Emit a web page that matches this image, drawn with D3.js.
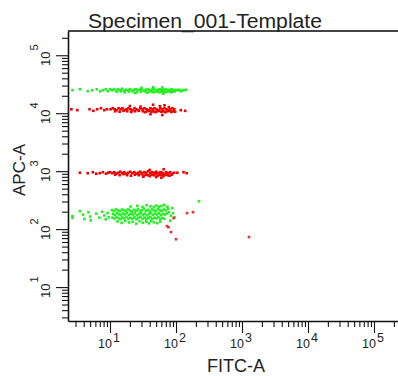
<!DOCTYPE html>
<html>
<head>
<meta charset="utf-8">
<script src="https://cdn.jsdelivr.net/npm/d3@7"></script>
<style>
  body { margin: 0; background: #fff; }
  text { font-family: "Liberation Sans", Arial, sans-serif; fill: #222; }
</style>
</head>
<body>
<div id="chart"></div>
<script>
const title = "Specimen_001-Template";
const xLabel = "FITC-A";
const yLabel = "APC-A";
const decades = [1, 2, 3, 4, 5];

// [FITC-A, APC-A] events
const greenHigh = [
  [2.7,25000],[3.5,25900],[4.6,24000],[5.4,24900],[6.3,25900],[7.1,23900],[7.8,24900],[8.6,25900],[9.3,24000],
  [10,25900],[10.7,24900],[11.5,25900],[12.3,24400],[13.2,25900],[14.2,24900],[15.2,26500],[16.3,24400],[17.4,25400],
  [18.7,24900],[20,25900],[21.5,24400],[23,25400],[24.7,25900],[26.5,24900],[28.4,25400],[30.4,25900],[32.6,24400],
  [35,25400],[37.5,25900],[40.2,24900],[43.1,25400],[46.2,26500],[49.5,24900],[53.1,25400],[56.9,25900],[61,24900],
  [65.4,25400],[70.1,25900],[75.2,24900],[80.6,25400],[86.4,25900],[92.6,24900],[99.3,25400],[106,24900],
  [12.8,23400],[14.7,23900],[16.8,22900],[19.3,23400],[22.2,23900],[25.5,23000],[29.4,23400],[33.8,23900],[36.3,22600],
  [38.8,23400],[41.6,23900],[44.6,23000],[47.8,23400],[51.3,23900],[55,23000],[59,23400],[63.2,23900],[67.7,23000],
  [72.6,23400],[77.8,23900],[83.4,23000],[89.4,23400],[95.9,23900],
  [30,27500],[62,27800],[45,28000],[112,25400],[122,24400],[131,24900],[142,25400],[118,23900],[64,21800],[24,22300]
];
const redHigh = [
  [2.6,11700],[3.2,11300],[4.9,11700],[5.6,11000],[6.4,11700],[7.3,12200],[8.2,11300],[9,11700],
  [10.2,11700],[11,12200],[11.8,11700],[12.6,11300],[13.5,12200],[14.5,11700],[15.5,12200],[16.6,11300],[17.8,11700],
  [19,12200],[20.4,11700],[21.9,11300],[23.5,12200],[25.2,11700],[27,11300],[28.9,12200],[31,11700],[33.2,12200],
  [35.6,11700],[38.2,11300],[41,12200],[43.9,11700],[47.1,12200],[50.5,11700],[54.1,11300],[58,12200],[62.2,11700],
  [66.7,12200],[71.5,11700],[76.6,11300],[82.1,11700],[88,12200],[94.3,11700],
  [12,10800],[14,10600],[16,11000],[18.3,10800],[21,10500],[24,10800],[27.5,11000],[31.5,10800],[34,10400],
  [36.8,10800],[39.5,11000],[42.5,10600],[45.5,10800],[48.8,10400],[52.3,10800],[56,11000],[60,10600],[64.3,10800],
  [69,10400],[74,10800],[79.3,11000],[85,10500],[91,10800],[97,10600],
  [20,13300],[29,13000],[45,14000],[57,13200],[67,13700],[41,9600],[62,9300],[78,12700],[118,11300],[138,11000]
];
const redMid = [
  [3.5,940],[4.6,924],[5.5,961],[6.2,905],[7,924],[7.8,960],[8.7,905],[9.4,940],
  [10,961],[10.8,924],[11.6,961],[12.4,905],[13.3,940],[14.3,980],[15.3,924],[16.4,961],[17.6,905],[18.9,940],
  [20.2,980],[21.7,924],[23.3,961],[25,905],[26.8,940],[28.7,980],[30.8,924],[33,961],[35.4,940],[37.9,1000],
  [40.6,924],[43.6,961],[46.7,940],[50.1,980],[53.7,924],[57.6,961],[61.7,940],[66.1,905],[70.9,961],[76,924],
  [81.5,961],[87.4,905],[93.7,940],
  [12,870],[14,853],[16,888],[18.2,853],[20.8,836],[23.8,870],[27.2,853],[30,888],[32.3,836],[34.8,870],
  [37.3,853],[40,820],[42.9,870],[46,853],[49.3,888],[52.8,836],[56.6,870],[60.7,853],[65,820],[69.7,870],
  [74.7,853],[80,836],[86,870],
  [50,790],[60,770],[40,1050],[65,1080],[32,800],[105,940],[130,961],[145,924]
];
const greenLow = [
  [10.7,213],[11.5,205],[12.3,221],[13.2,210],[14.2,204],[15.2,218],[16.3,212],[17.4,206],[18.7,221],[20,209],
  [21.5,200],[23,215],[24.7,208],[26.5,221],[28.4,204],[30.4,212],[32.6,226],[35,207],[37.5,215],[40.2,201],
  [43.1,219],[46.2,210],[49.5,204],[53.1,222],[56.9,212],[61,206],[65.4,218],[70.1,210],
  [11.1,183],[11.9,176],[12.8,189],[13.7,180],[14.7,174],[15.7,186],[16.8,179],[18,190],[19.3,176],[20.7,184],
  [22.2,178],[23.8,188],[25.5,173],[27.4,182],[29.4,190],[31.5,177],[33.8,185],[36.2,172],[38.8,181],[41.6,189],
  [44.6,176],[47.8,184],[51.3,179],[55,188],[59,174],[63.2,183],[67.7,178],[72.6,186],
  [10.9,158],[11.7,152],[12.5,161],[13.4,155],[14.4,149],[15.4,159],[16.5,153],[17.7,162],[19,150],[20.3,157],
  [21.8,152],[23.4,160],[25.1,148],[26.9,156],[28.9,163],[31,151],[33.2,158],[35.6,147],[38.1,155],[40.9,161],
  [43.8,150],[47,157],[50.4,153],[54,160],[57.9,148],[62,156],[66.5,151],
  [13,136],[15,128],[17,138],[19.5,130],[22,134],[25,124],[28,137],[31.5,129],[35.5,133],[39,126],[42,139],
  [46,131],[52,127],[58,135],
  [20.5,245],[26,252],[31,242],[36,258],[41,247],[46,240],[50,255],[55,244],[60,250],[66,262],[74,244],
  [2.7,168],[2.7,156],[3.5,205],[3.9,178],[4.1,150],[4.7,196],[5,165],[5.1,142],[6.2,185],[6.9,158],[7.6,200],
  [8.2,172],[8.6,148],[9.2,190],[9.6,160],
  [78,195],[84,170],[90,188],[95,160],[76,225],[88,230],[82,140],
  [223,304]
];
const redStray = [
  [147,189],[181,196],[92,155],[73,113],[77,108],[84,89],[100,67],[1277,73]
];

const width = 398, height = 376;
const svg = d3.select('#chart').append('svg')
  .attr('width', width)
  .attr('height', height);

// log scales, decade spacing measured on the reference
const xMin = 2.31, xMax = 262144;
const x = d3.scaleLog().domain([xMin, xMax]).range([68, 68 + 66 * Math.log10(xMax / xMin)]);
const y = d3.scaleLog().domain([2.6, 262144]).range([321, 31]);

const isMajor = v => Math.abs(Math.log10(v) - Math.round(Math.log10(v))) < 1e-6;
const xMinor = x.ticks().filter(v => !isMajor(v));
const xMajor = x.ticks().filter(isMajor);
const yMinor = y.ticks().filter(v => !isMajor(v));
const yMajor = y.ticks().filter(isMajor);

// top frame line
svg.append('line')
  .attr('x1', 68).attr('x2', width)
  .attr('y1', 31).attr('y2', 31)
  .style('stroke', '#444')
  .style('stroke-width', 2);

// y axis
svg.append('g')
  .attr('transform', 'translate(68,0)')
  .call(d3.axisLeft(y).tickValues(yMinor).tickSize(6).tickSizeOuter(0).tickFormat(''));
svg.append('g')
  .attr('class', 'major')
  .attr('transform', 'translate(68,0)')
  .call(d3.axisLeft(y).tickValues(yMajor).tickSize(12).tickSizeOuter(0).tickFormat(''));

// x axis
svg.append('g')
  .attr('transform', 'translate(0,321)')
  .call(d3.axisBottom(x).tickValues(xMinor).tickSize(6).tickSizeOuter(0).tickFormat(''));
svg.append('g')
  .attr('class', 'major')
  .attr('transform', 'translate(0,321)')
  .call(d3.axisBottom(x).tickValues(xMajor).tickSize(12).tickSizeOuter(0).tickFormat(''));

svg.selectAll('.major .domain').remove();
svg.selectAll('.domain').style('stroke', '#111').style('stroke-width', 1.6);
svg.selectAll('.tick line').style('stroke', '#111').style('stroke-width', 1.1);

// decade labels
decades.forEach(e => {
  const tx = svg.append('text')
    .attr('x', x(Math.pow(10, e)) - 1)
    .attr('y', 348)
    .attr('text-anchor', 'middle')
    .style('font-size', '12.5px');
  tx.append('tspan').text('10');
  tx.append('tspan').attr('dy', -6).attr('dx', 1).text(e);

  const ty = svg.append('text')
    .attr('transform', `translate(50,${y(Math.pow(10, e))}) rotate(-90)`)
    .attr('text-anchor', 'middle')
    .style('font-size', '13px');
  ty.append('tspan').text('10');
  ty.append('tspan').attr('dy', -12).attr('dx', 1).style('font-size', '11px').text(e);
});

// titles
svg.append('text')
  .attr('x', 205).attr('y', 28)
  .attr('text-anchor', 'middle')
  .attr('textLength', 234)
  .attr('lengthAdjust', 'spacingAndGlyphs')
  .style('font-size', '20px')
  .text(title);
svg.append('text')
  .attr('x', 236).attr('y', 372)
  .attr('text-anchor', 'middle')
  .style('font-size', '18px')
  .text(xLabel);
svg.append('text')
  .attr('transform', 'translate(25,170) rotate(-90)')
  .attr('text-anchor', 'middle')
  .style('font-size', '17px')
  .text(yLabel);

// events
const groups = [
  { data: greenHigh, color: '#22f022' },
  { data: greenLow, color: '#22f022' },
  { data: redHigh, color: '#f00000' },
  { data: redMid, color: '#f00000' },
  { data: redStray, color: '#e83030' }
];
groups.forEach(g => {
  svg.append('g')
    .selectAll('rect')
    .data(g.data)
    .enter()
    .append('rect')
    .attr('x', d => x(d[0]) - 1.3)
    .attr('y', d => y(d[1]) - 1.3)
    .attr('width', 2.6)
    .attr('height', 2.6)
    .style('fill', g.color);
});
</script>
</body>
</html>
